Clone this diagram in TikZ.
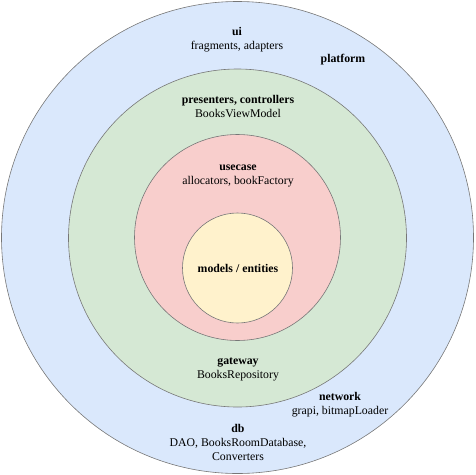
\documentclass[tikz,border=0pt]{standalone}
\usepackage{fontspec}
\setmainfont{Liberation Serif}
\definecolor{cblue}{HTML}{DAE8FC}
\definecolor{cgreen}{HTML}{D5E8D4}
\definecolor{cred}{HTML}{F8CECC}
\definecolor{cyellow}{HTML}{FFF2CC}
\definecolor{cstroke}{HTML}{777777}
\begin{document}
\begin{tikzpicture}[x=1pt,y=-1pt,
  ring/.style={draw=cstroke,line width=0.6pt,circle,inner sep=0pt,minimum size=#1},
  lbl/.style={font=\fontsize{11.8}{14}\selectfont,align=center,inner sep=0pt,text=black}]
\useasboundingbox (0,0) rectangle (475,475);
\node[ring=472pt,fill=cblue] (outer) at (237.5,237.5) {};
\node[ring=338pt,fill=cgreen] (green) at (237.5,238) {};
\node[ring=206pt,fill=cred] (red) at (237.5,237.5) {};
\node[ring=110pt,fill=cyellow] (core) at (237.5,268) {};
\node[lbl] (ui) at (237,40) {\textbf{ui}\\fragments, adapters};
\node[lbl] (platform) at (343,60) {\textbf{platform}};
\node[lbl] (pres) at (238,106) {\textbf{presenters, controllers}\\BooksViewModel};
\node[lbl] (usecase) at (238,176) {\textbf{usecase}\\allocators, bookFactory};
\node[lbl] (models) at (238,268) {\textbf{models / entities}};
\node[lbl] (gateway) at (238,369) {\textbf{gateway}\\BooksRepository};
\node[lbl] (network) at (340,405) {\textbf{network}\\grapi, bitmapLoader};
\node[lbl] (db) at (238,442) {\textbf{db}\\DAO, BooksRoomDatabase,\\Converters};
\end{tikzpicture}
\end{document}
